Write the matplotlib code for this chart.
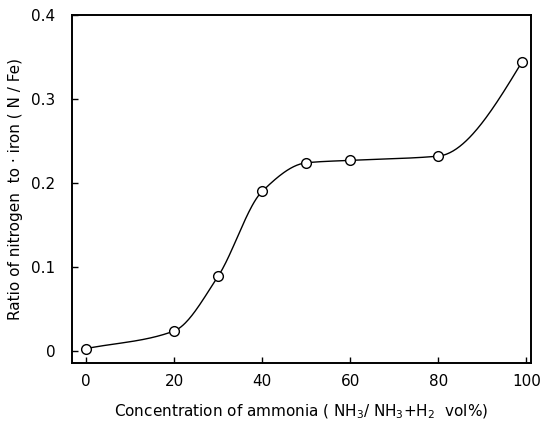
import numpy as np
import matplotlib.pyplot as plt

# Ammonia concentration (vol%) and N/Fe ratio
conc = [0, 20, 30, 40, 50, 60, 80, 99]
ratio = [0.003, 0.024, 0.089, 0.190, 0.224, 0.227, 0.232, 0.344]
xticks = [0, 20, 40, 60, 80, 100]
yticks = [0, 0.1, 0.2, 0.3, 0.4]
ytick_labels = ["0", "0.1", "0.2", "0.3", "0.4"]


def smooth_curve(x, y, n=400):
    # monotone cubic (Fritsch-Carlson) through the measured points
    x = np.asarray(x, float)
    y = np.asarray(y, float)
    h = np.diff(x)
    d = np.diff(y) / h
    m = np.zeros_like(x)
    m[0] = d[0]
    # three-point end slope so the last segment keeps bending upward
    m[-1] = ((2 * h[-1] + h[-2]) * d[-1] - h[-1] * d[-2]) / (h[-1] + h[-2])
    for i in range(1, len(x) - 1):
        if d[i - 1] * d[i] <= 0:
            m[i] = 0
        else:
            w1 = 2 * h[i] + h[i - 1]
            w2 = h[i] + 2 * h[i - 1]
            m[i] = (w1 + w2) / (w1 / d[i - 1] + w2 / d[i])
    xs = np.linspace(x[0], x[-1], n)
    idx = np.clip(np.searchsorted(x, xs) - 1, 0, len(x) - 2)
    t = (xs - x[idx]) / h[idx]
    h00 = 2 * t**3 - 3 * t**2 + 1
    h10 = t**3 - 2 * t**2 + t
    h01 = -2 * t**3 + 3 * t**2
    h11 = t**3 - t**2
    ys = h00 * y[idx] + h10 * h[idx] * m[idx] + h01 * y[idx + 1] + h11 * h[idx] * m[idx + 1]
    return xs, ys


fig = plt.figure(figsize=(5.4, 4.24), dpi=100)
ax = fig.add_axes([0.133, 0.144, 0.850, 0.821])

xs, ys = smooth_curve(conc, ratio)
ax.plot(xs, ys, color="black", lw=1.0)
ax.plot(conc, ratio, "o", ms=7, mfc="white", mec="black", mew=1.0, zorder=3)

ax.set_xlim(-3.2, 101)
ax.set_ylim(-0.014, 0.4)
ax.set_xticks(xticks)
ax.set_xticklabels([str(v) for v in xticks])
ax.set_yticks(yticks)
ax.set_yticklabels(ytick_labels)
ax.tick_params(direction="in", length=4, width=1, labelsize=11, pad=8)
ax.tick_params(axis="y", pad=12)
for s in ax.spines.values():
    s.set_linewidth(1.4)

ax.set_xlabel("Concentration of ammonia ( NH$_3$/ NH$_3$+H$_2$  vol%)", fontsize=11, labelpad=10)
ax.set_ylabel("Ratio of nitrogen  to · iron ( N / Fe)", fontsize=11, labelpad=6)

fig.savefig("out.png", dpi=100)
